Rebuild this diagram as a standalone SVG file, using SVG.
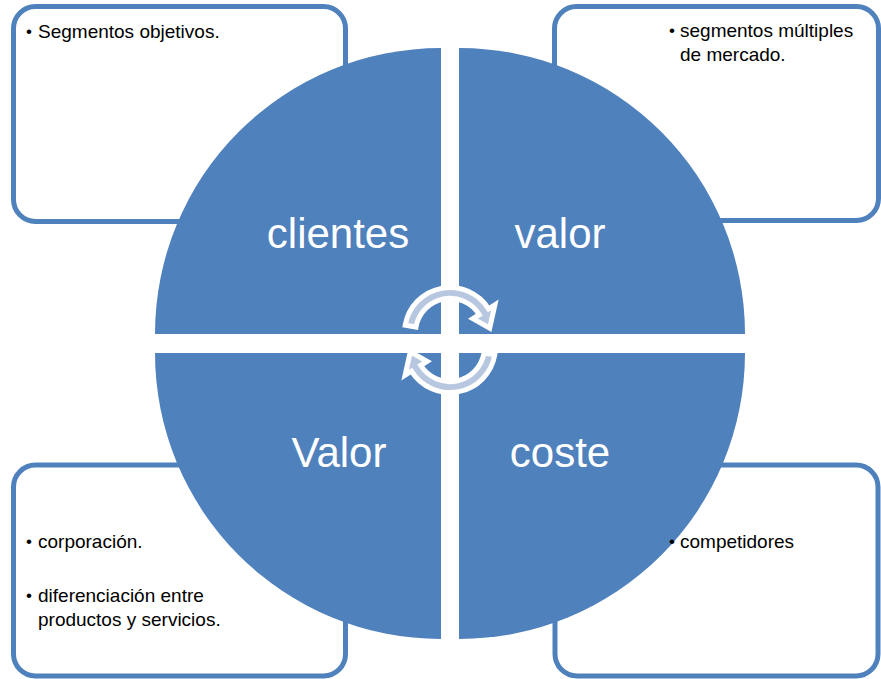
<svg xmlns="http://www.w3.org/2000/svg" width="881" height="679" viewBox="0 0 881 679">
<style>
.box{fill:#FFFFFF;stroke:#4F81BD;stroke-width:5}
.quad{fill:#4F81BD}
.big{font-family:"Liberation Sans",Arial,sans-serif;font-size:42px;fill:#FFFFFF;text-anchor:middle}
.small{font-family:"Liberation Sans",Arial,sans-serif;font-size:19px;fill:#000000}
.bul{font-family:"Liberation Sans",Arial,sans-serif;font-size:17px;fill:#000000}
.arrow{fill:#B8C7E0;stroke:#FFFFFF;stroke-width:5;stroke-linejoin:miter;stroke-miterlimit:4}
</style>
<rect width="881" height="679" fill="#FFFFFF"/>
<g id="box-tl">
<rect class="box" x="13.5" y="6.5" width="332" height="215" rx="22"/>
</g>
<g id="box-tr">
<rect class="box" x="554.5" y="6.5" width="324" height="214" rx="22"/>
</g>
<g id="box-bl">
<rect class="box" x="13.5" y="465" width="332" height="211" rx="22"/>
</g>
<g id="box-br">
<rect class="box" x="555" y="465" width="323" height="211" rx="22"/>
</g>
<g id="q-clientes">
<path class="quad" d="M441 334 L155 334 A286 286 0 0 1 441 48 Z"/>
<text class="big" x="338" y="248">clientes</text>
</g>
<g id="q-valor">
<path class="quad" d="M459 334 L459 48 A286 286 0 0 1 745 334 Z"/>
<text class="big" x="560" y="248">valor</text>
</g>
<g id="q-Valor">
<path class="quad" d="M441 353 L441 639 A286 286 0 0 1 155 353 Z"/>
<text class="big" x="339" y="467">Valor</text>
</g>
<g id="q-coste">
<path class="quad" d="M459 353 L745 353 A286 286 0 0 1 459 639 Z"/>
<text class="big" x="560" y="467">coste</text>
</g>
<g id="box-tl-text">
<text class="bul" x="26" y="37">•</text>
<text class="small" x="38" y="38">Segmentos objetivos.</text>
</g>
<g id="box-tr-text">
<text class="bul" x="669" y="36">•</text>
<text class="small" x="680" y="37">segmentos múltiples</text>
<text class="small" x="680" y="61">de mercado.</text>
</g>
<g id="box-bl-text">
<text class="bul" x="26" y="547">•</text>
<text class="small" x="38" y="548">corporación.</text>
<text class="bul" x="26" y="601">•</text>
<text class="small" x="38" y="602">diferenciación entre</text>
<text class="small" x="38" y="626">productos y servicios.</text>
</g>
<g id="box-br-text">
<text class="bul" x="669" y="547">•</text>
<text class="small" x="680" y="548">competidores</text>
</g>
<g id="connectors">
<path id="arrow-top" class="arrow" d="M405.2 325.1 A45.5 45.5 0 0 1 488.6 308.9 L494.9 304.9 L489.7 328.1 L472.9 318.7 L479.3 314.7 A34.5 34.5 0 0 0 416.0 327.0 Z"/>
<path id="arrow-bottom" class="arrow" transform="rotate(180 450 340)" d="M405.2 325.1 A45.5 45.5 0 0 1 488.6 308.9 L494.9 304.9 L489.7 328.1 L472.9 318.7 L479.3 314.7 A34.5 34.5 0 0 0 416.0 327.0 Z"/>
</g>
</svg>
